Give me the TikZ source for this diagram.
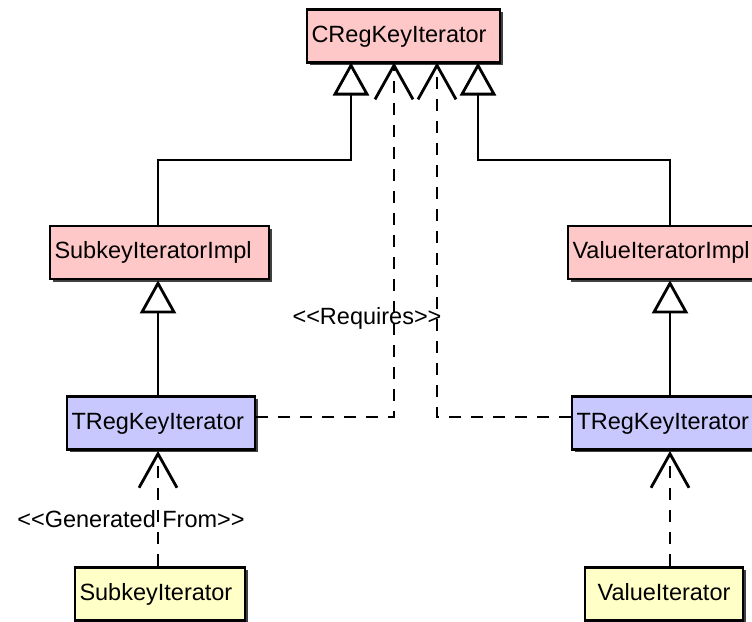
\documentclass[tikz,border=0pt]{standalone}
\usepackage{fontspec}
\setmainfont{Liberation Sans}
\usetikzlibrary{arrows.meta,shadows}
\definecolor{pinkbox}{RGB}{255,200,200}
\definecolor{bluebox}{RGB}{200,200,255}
\definecolor{yellowbox}{RGB}{255,255,200}
\tikzset{
  cls/.style={draw=black, line width=2.8pt, minimum height=53pt, inner ysep=0pt, inner xsep=4.5pt,
    align=left, font=\fontsize{23.5}{28}\selectfont, text height=17pt, text depth=5pt,
    general shadow={fill=black!75, shadow xshift=2.5pt, shadow yshift=-2.5pt}},
  conn/.style={line width=2.8pt},
  dsh/.style={line width=2.8pt, dash pattern=on 12pt off 10pt},
  inh/.style={-{Triangle[open,length=33pt,width=36pt,line width=2.8pt]}},
  dep/.style={-{Straight Barb[length=34pt,width=38pt,line width=2.8pt]}},
  lbl/.style={font=\fontsize{23.5}{28}\selectfont, inner sep=0pt}
}
\begin{document}
\begin{tikzpicture}[x=1pt,y=-1pt]
\useasboundingbox (0,0) rectangle (752,621);
\clip (0,0) rectangle (752,621);
\node[cls, fill=pinkbox, text width=184pt] (creg) at (403.5,36) {CRegKeyIterator};
\node[cls, fill=pinkbox, text width=210pt] (sub) at (159.5,252.5) {SubkeyIteratorImpl};
\node[cls, fill=pinkbox, text width=195pt] (val) at (670,252.5) {ValueIteratorImpl};
\node[cls, fill=bluebox, text width=179pt] (tl) at (161,423) {TRegKeyIterator};
\node[cls, fill=bluebox, text width=187pt] (tr) at (670,423) {TRegKeyIterator};
\node[cls, fill=yellowbox, text width=161pt] (si) at (160,594) {SubkeyIterator};
\node[cls, fill=yellowbox, text width=149pt, align=center] (vi) at (664,594) {ValueIterator};

\coordinate (t1) at (351,62.5);
\coordinate (t2) at (394,62.5);
\coordinate (t3) at (437,62.5);
\coordinate (t4) at (478,62.5);
\coordinate (h1) at (158,160);
\coordinate (h2) at (670,160);
\coordinate (d1) at (394,417);
\coordinate (d2) at (437,417);

\draw[conn,inh] (sub.north -| h1) -- (h1) -| (t1);
\draw[conn,inh] (val.north -| h2) -- (h2) -| (t4);
\draw[conn,inh] (tl.north -| h1) -- (sub.south -| h1);
\draw[conn,inh] (tr.north) -- (val.south);
\draw[dsh,dep] (tl.east |- d1) -- (d1) -- (t2);
\draw[dsh,dep] (tr.west |- d2) -- (d2) -- (t3);
\draw[dsh,dep] (si.north -| h1) -- (tl.south -| h1);
\draw[dsh,dep] (vi.north -| h2) -- (tr.south -| h2);

\node[lbl] (req) at (367,318) {<{}<Requires>{}>};
\node[lbl] (gen) at (131,519) {<{}<Generated From>{}>};
\end{tikzpicture}
\end{document}
